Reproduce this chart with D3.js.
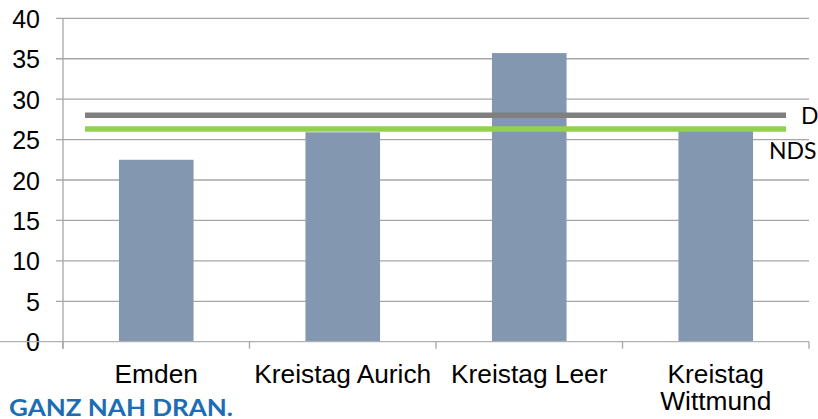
<!DOCTYPE html>
<html>
<head>
<meta charset="utf-8">
<script src="https://cdn.jsdelivr.net/npm/d3@7"></script>
<style>
  html, body { margin: 0; padding: 0; background: #fff; }
  svg { display: block; }
</style>
</head>
<body>
<svg id="chart" width="818" height="419"></svg>
<script>
// Categories (second entry of a pair goes on a second line)
const categories = [["Emden"], ["Kreistag Aurich"], ["Kreistag Leer"], ["Kreistag", "Wittmund"]];
const values = [22.5, 25.9, 35.7, 26.1];

// Reference levels drawn as horizontal bars across the chart
const refNames = ["D", "NDS"];
const refValues = [28.0, 26.3];
const refColors = ["#7f7f7f", "#92d050"];

const yTicks = [0, 5, 10, 15, 20, 25, 30, 35, 40];
const footer = "GANZ NAH DRAN.";

(function draw() {
  const svg = d3.select("#chart");
  const plotLeft = 63, plotRight = 809, plotTop = 18.3, plotBottom = 341.7;

  const x = d3.scaleBand()
    .domain(categories.map((d, i) => i))
    .range([plotLeft, plotRight])
    .paddingInner(0.6)
    .paddingOuter(0.3);

  // continuous index scale used for the reference-line extents
  const xi = d3.scaleLinear().domain([-0.5, categories.length - 0.5]).range([plotLeft, plotRight]);

  const y = d3.scaleLinear().domain([0, 40]).range([plotBottom, plotTop]);

  // Horizontal gridlines
  svg.append("g")
    .selectAll("line")
    .data(yTicks.filter(t => t > 0))
    .join("line")
    .attr("x1", 56).attr("x2", plotRight)
    .attr("y1", d => y(d)).attr("y2", d => y(d))
    .attr("stroke", "#a6a6a6")
    .attr("stroke-width", 1.3);

  // Y axis labels
  const yAxis = d3.axisLeft(y).tickValues(yTicks).tickSize(0).tickPadding(0);
  const gy = svg.append("g").attr("transform", "translate(40,0)").call(yAxis);
  gy.select(".domain").remove();
  gy.selectAll("text")
    .attr("font-family", "'Liberation Sans', Arial, sans-serif")
    .attr("font-size", 25)
    .attr("fill", "#000")
    .attr("dy", "0.36em");

  // Y axis line
  svg.append("line")
    .attr("x1", plotLeft).attr("x2", plotLeft)
    .attr("y1", plotTop).attr("y2", plotBottom + 7)
    .attr("stroke", "#a6a6a6").attr("stroke-width", 1.3);

  // Bars
  svg.append("g")
    .selectAll("rect")
    .data(values)
    .join("rect")
    .attr("x", (d, i) => x(i))
    .attr("width", x.bandwidth())
    .attr("y", d => y(d))
    .attr("height", d => y(0) - y(d))
    .attr("fill", "#8497b0");

  // X axis baseline and category ticks
  svg.append("line")
    .attr("x1", 0).attr("x2", plotRight)
    .attr("y1", plotBottom).attr("y2", plotBottom)
    .attr("stroke", "#b0b0b0").attr("stroke-width", 1.3);
  svg.append("g")
    .selectAll("line")
    .data(d3.range(categories.length + 1))
    .join("line")
    .attr("x1", d => xi(d - 0.5)).attr("x2", d => xi(d - 0.5))
    .attr("y1", plotBottom).attr("y2", plotBottom + 7)
    .attr("stroke", "#a6a6a6").attr("stroke-width", 1.3);

  // Category labels
  const lab = svg.append("g")
    .selectAll("text")
    .data(categories)
    .join("text")
    .attr("x", (d, i) => x(i) + x.bandwidth() / 2)
    .attr("y", 382.5)
    .attr("text-anchor", "middle")
    .attr("font-family", "'Liberation Sans', Arial, sans-serif")
    .attr("font-size", 26.3)
    .attr("fill", "#000");
  lab.selectAll("tspan")
    .data(d => d)
    .join("tspan")
    .attr("x", function () { return this.parentNode.getAttribute("x"); })
    .attr("dy", (d, j) => j === 0 ? 0 : 27)
    .text(d => d);

  // Reference lines
  svg.append("g")
    .selectAll("line")
    .data(refValues)
    .join("line")
    .attr("x1", xi(-0.382)).attr("x2", xi(3.377))
    .attr("y1", d => y(d)).attr("y2", d => y(d))
    .attr("stroke", (d, i) => refColors[i])
    .attr("stroke-width", 5.5);

  // Reference labels
  svg.append("text")
    .attr("x", 801).attr("y", y(refValues[0]) + 9)
    .attr("font-family", "Lato, 'Open Sans', sans-serif")
    .attr("font-size", 23)
    .attr("fill", "#000")
    .text(refNames[0]);
  svg.append("text")
    .attr("x", 769).attr("y", y(refValues[1]) + 30)
    .attr("font-family", "Lato, 'Open Sans', sans-serif")
    .attr("font-size", 23)
    .attr("fill", "#000")
    .text(refNames[1]);

  // Footer slogan
  svg.append("text")
    .attr("x", 9).attr("y", 415.5)
    .attr("font-family", "Lato, 'Open Sans', sans-serif")
    .attr("font-weight", 700)
    .attr("font-size", 22)
    .attr("fill", "#1c6db4")
    .attr("textLength", 224)
    .attr("lengthAdjust", "spacingAndGlyphs")
    .text(footer);
})();
</script>
</body>
</html>
